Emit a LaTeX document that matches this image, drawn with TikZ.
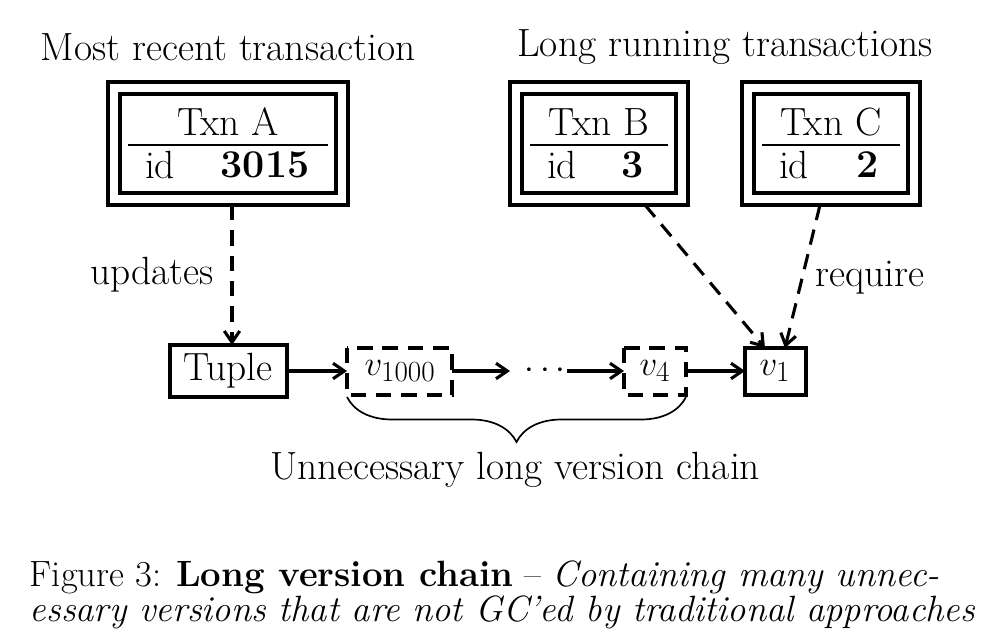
\documentclass[tikz,border=0pt]{standalone}
\usetikzlibrary{decorations.pathreplacing,arrows.meta}
\begin{document}
\begin{tikzpicture}[x=0.025cm,y=-0.025cm,
  every node/.style={font=\fontsize{28}{34}\selectfont},
  ln/.style={line width=2.6pt},
  arr/.style={line width=2.2pt,-{Straight Barb[length=8pt,width=11pt]}},
  darr/.style={arr,dash pattern=on 11pt off 7pt}]
\useasboundingbox (0,0) rectangle (1008,643);
\node (t1) at (228,47) {Most recent transaction};
\node (t2) at (725,47) {Long running transactions};
\foreach \n/\xa/\xb/\lab/\num/\nx in {A/108/348/Txn A/3015/265, B/510/688/Txn B/3/633, C/742/920/Txn C/2/868}{
  \draw[ln] (\xa,82) rectangle (\xb,205);
  \draw[ln] (\xa+12,94) rectangle (\xb-12,193);
  \draw[line width=1.3pt] (\xa+20,145) -- (\xb-20,145);
  \node (l\n) at ({(\xa+\xb)/2},122) {\lab};
  \node (i\n) at (\xa+52,165) {id};
  \node (n\n) at (\nx,165) {\textbf{\num}};
}
\coordinate (A) at (232,205); \coordinate (B) at (645,205); \coordinate (C) at (820,205);
\draw[ln] (170,345) rectangle (287,397);
\node (tupl) at (228,371) {Tuple};
\draw[ln,dash pattern=on 11pt off 7pt] (347,348) rectangle (452,395);
\node (v1000) at (400,371) {$v_{1000}$};
\node (dots) at (545,371) {$\cdots$};
\draw[ln,dash pattern=on 11pt off 7pt] (624,348) rectangle (686,395);
\node (v4) at (655,371) {$v_4$};
\draw[ln] (745,348) rectangle (806,395);
\node (v1) at (775,371) {$v_1$};
\coordinate (tupt) at (232,345);
\coordinate (va) at (765,348); \coordinate (vb) at (785,348);
\draw[darr] (A) -- (tupt);
\node (upd) at (152,275) {updates};
\draw[darr] (B) -- (va);
\draw[darr] (C) -- (vb);
\node (req) at (870,278) {require};
\coordinate (a1) at (287,371); \coordinate (a2) at (347,371);
\coordinate (a3) at (452,371); \coordinate (a4) at (510,371);
\coordinate (a5) at (567,371); \coordinate (a6) at (624,371);
\coordinate (a7) at (686,371); \coordinate (a8) at (745,371);
\draw[arr] (a1) -- (a2); \draw[arr] (a3) -- (a4);
\draw[arr] (a5) -- (a6); \draw[arr] (a7) -- (a8);
\coordinate (b1) at (686,397); \coordinate (b2) at (347,397);
\draw[line width=1.2pt,decorate,decoration={brace,amplitude=32pt}] (b1) -- (b2);
\node (unn) at (515,470) {Unnecessary long version chain};
\node[anchor=west,font=\fontsize{26}{31}\selectfont] (cap1) at (25,577) {Figure 3: \textbf{Long version chain} -- \textit{Containing many unnec-}};
\node[anchor=west,font=\fontsize{26}{31}\selectfont] (cap2) at (25,612) {\textit{essary versions that are not GC'ed by traditional approaches}};
\end{tikzpicture}
\end{document}
